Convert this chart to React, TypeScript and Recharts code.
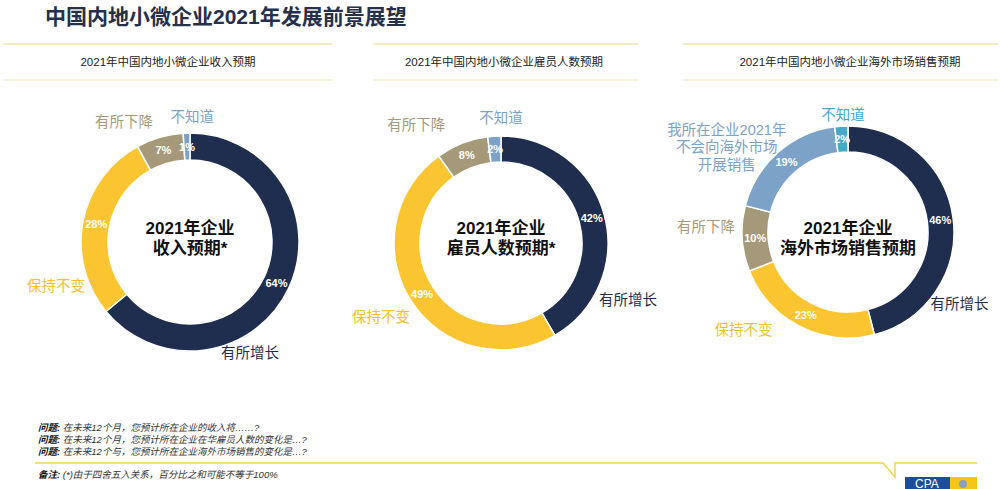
import React from 'react';
import { PieChart, Pie, Cell } from 'recharts';

// ---------- data ----------
const revenueCategories = ['有所增长', '保持不变', '有所下降', '不知道'];
const revenueValues = [64, 28, 7, 1];

const employeeCategories = ['有所增长', '保持不变', '有所下降', '不知道'];
const employeeValues = [42, 49, 8, 2];

const overseasCategories = ['有所增长', '保持不变', '有所下降', '我所在企业2021年\n不会向海外市场\n开展销售', '不知道'];
const overseasValues = [46, 23, 10, 19, 2];

const subtitles = [
  '2021年中国内地小微企业收入预期',
  '2021年中国内地小微企业雇员人数预期',
  '2021年中国内地小微企业海外市场销售预期',
];
const centerTitles = [
  ['2021年企业', '收入预期*'],
  ['2021年企业', '雇员人数预期*'],
  ['2021年企业', '海外市场销售预期'],
];
const footQuestions = [
  '在未来12个月，您预计所在企业的收入将……?',
  '在未来12个月，您预计所在企业在华雇员人数的变化是…?',
  '在未来12个与，您预计所在企业海外市场销售的变化是…?',
];
const footNote = '(*)由于四舍五入关系，百分比之和可能不等于100%';

// ---------- styles ----------
const NAVY = '#1f2d4e';
const YELLOW = '#fbc532';
const TAN = '#a6997a';
const LBLUE = '#7ca2c8';
const TEAL = '#45a9c9';

const colors4 = [NAVY, YELLOW, TAN, LBLUE];
const colors5 = [NAVY, YELLOW, TAN, LBLUE, TEAL];
const labelColors4 = [NAVY, '#f3bf2e', TAN, LBLUE];
const labelColors5 = [NAVY, '#f3bf2e', TAN, LBLUE, TEAL];

const FONT = '"Liberation Sans", Arial, "Noto Sans CJK SC", sans-serif';

// layout for each panel (positions kept apart from the data)
const panels = [
  { cx: 190, cy: 242, outer: 109, inner: 82, x0: 3, x1: 332, subX: 168,
    labelPos: [[-61.6, 126], [198, 141], [118.8, 137], [89, 125]] },
  { cx: 501, cy: 243, outer: 107, inner: 81, x0: 373, x1: 638, subX: 504,
    labelPos: [[-24, 139], [211.7, 141], [125.8, 145], [90, 125]] },
  { cx: 848, cy: 232, outer: 106, inner: 80, x0: 683, x1: 998, subX: 850,
    labelPos: [[-33, 133], [223, 143], [178, 142], [145, 148], [92.5, 117]] },
];

const RAD = Math.PI / 180;

function build(cats: string[], vals: number[]) {
  return cats.map((c, i) => ({ name: c, value: vals[i] }));
}

const datasets = [
  { data: build(revenueCategories, revenueValues), colors: colors4, labelColors: labelColors4 },
  { data: build(employeeCategories, employeeValues), colors: colors4, labelColors: labelColors4 },
  { data: build(overseasCategories, overseasValues), colors: colors5, labelColors: labelColors5 },
];

function makeLabel(pIdx: number) {
  const p = panels[pIdx];
  const ds = datasets[pIdx];
  return (props: any) => {
    const { midAngle, index, innerRadius, outerRadius, value, name } = props;
    const cx = typeof props.cx === 'number' ? props.cx : p.cx;
    const cy = typeof props.cy === 'number' ? props.cy : p.cy;
    const mr = (innerRadius + outerRadius) / 2;
    const px = cx + mr * Math.cos(-midAngle * RAD);
    const py = cy + mr * Math.sin(-midAngle * RAD);
    const [ang, dist] = p.labelPos[index];
    const lx = cx + dist * Math.cos(-ang * RAD);
    const ly = cy + dist * Math.sin(-ang * RAD);
    const lines = String(name).split('\n');
    const lh = 17.5;
    return (
      <g key={`lbl-${pIdx}-${index}`}>
        <text x={px} y={py} textAnchor="middle" dominantBaseline="central"
          fill="#ffffff" fontSize={11} fontWeight="bold" fontFamily={FONT}>
          {value}%
        </text>
        <text x={lx} y={ly - ((lines.length - 1) * lh) / 2} textAnchor="middle" dominantBaseline="central"
          fill={ds.labelColors[index]} fontSize={14.5} fontFamily={FONT}>
          {lines.map((ln, k) => (
            <tspan key={k} x={lx} dy={k === 0 ? 0 : lh}>{ln}</tspan>
          ))}
        </text>
      </g>
    );
  };
}

export default function App() {
  return (
    <div style={{ position: 'absolute', left: 0, top: 0, width: 1000, height: 489, background: '#ffffff', overflow: 'hidden' }}>
      <div style={{ position: 'absolute', left: 0, top: 0 }}>
        <PieChart width={1000} height={489} margin={{ top: 0, right: 0, bottom: 0, left: 0 }}>
          {datasets.map((ds, i) => (
            <Pie
              key={i}
              data={ds.data}
              dataKey="value"
              nameKey="name"
              cx={panels[i].cx}
              cy={panels[i].cy}
              innerRadius={panels[i].inner}
              outerRadius={panels[i].outer}
              startAngle={90}
              endAngle={-270}
              stroke="#ffffff"
              strokeWidth={1.5}
              isAnimationActive={false}
              labelLine={false}
              label={makeLabel(i)}
            >
              {ds.data.map((_, k) => (
                <Cell key={k} fill={ds.colors[k]} />
              ))}
            </Pie>
          ))}
        </PieChart>
      </div>
      <svg width={1000} height={489} style={{ position: 'absolute', left: 0, top: 0, pointerEvents: 'none' }}>
        <text x={45} y={16} dominantBaseline="central" fontSize={21} fontWeight="bold" fill="#27304a" fontFamily={FONT}>
          中国内地小微企业2021年发展前景展望
        </text>
        {panels.map((p, i) => (
          <g key={i}>
            <line x1={p.x0} x2={p.x1} y1={44} y2={44} stroke="#efe5ae" strokeWidth={1.5} />
            <line x1={p.x0} x2={p.x1} y1={80} y2={80} stroke="#f5efd0" strokeWidth={1.5} />
            <text x={p.subX} y={62} textAnchor="middle" dominantBaseline="central" fontSize={11.5} fill="#222" fontFamily={FONT}>
              {subtitles[i]}
            </text>
            <text x={p.cx} y={228} textAnchor="middle" dominantBaseline="central" fontSize={17} fontWeight="bold" fill="#111" fontFamily={FONT}>
              {centerTitles[i][0]}
            </text>
            <text x={p.cx} y={248} textAnchor="middle" dominantBaseline="central" fontSize={17} fontWeight="bold" fill="#111" fontFamily={FONT}>
              {centerTitles[i][1]}
            </text>
          </g>
        ))}
        {footQuestions.map((q, i) => (
          <text key={i} x={38} y={427 + i * 12} dominantBaseline="central" fontSize={9.5} fontStyle="italic" fill="#333" fontFamily={FONT}>
            <tspan fontWeight="bold" fill="#111">问题:</tspan>
            <tspan> {q}</tspan>
          </text>
        ))}
        <path d="M35,463 L883,463 L895,477 L895,463 L977,463" fill="none" stroke="#f1d54e" strokeWidth={1.5} />
        <text x={38} y={474} dominantBaseline="central" fontSize={9.5} fontStyle="italic" fill="#333" fontFamily={FONT}>
          <tspan fontWeight="bold" fill="#111">备注:</tspan>
          <tspan> {footNote}</tspan>
        </text>
        <rect x={905} y={477} width={45} height={12} fill="#1d4e9b" />
        <text x={927} y={487.5} textAnchor="middle" fontSize={12} fill="#fff" fontFamily={FONT}>CPA</text>
        <rect x={950} y={477} width={27} height={12} fill="#f5c518" />
        <circle cx={963} cy={484} r={4} fill="#8aa0b8" />
      </svg>
    </div>
  );
}
